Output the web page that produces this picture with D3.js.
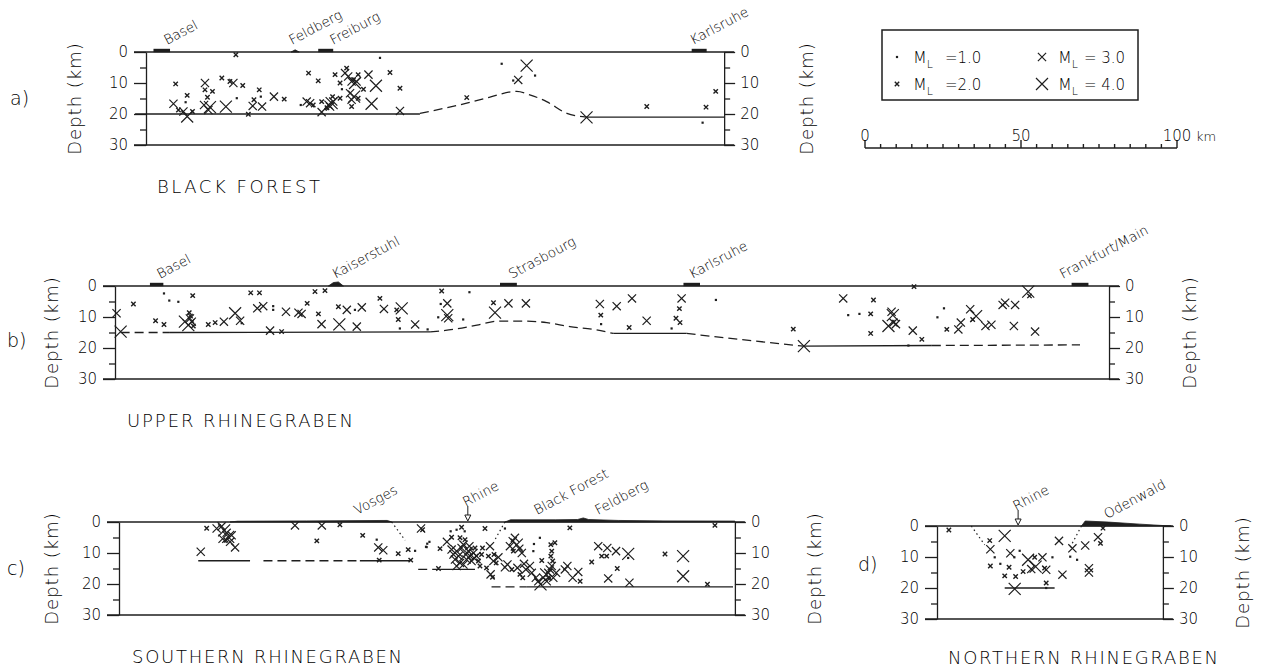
<!DOCTYPE html>
<html>
<head>
<meta charset="utf-8">
<script src="https://cdn.jsdelivr.net/npm/d3@7"></script>
<style>
  body { margin: 0; background: #fff; }
  text { font-family: "DejaVu Sans", sans-serif; font-weight: 200; fill: #000; }
</style>
</head>
<body>
<script>
// ---- data: [distance km, depth km, ML] ----
const eventsA = [
  [28.8,0.9,2],[9.5,10.3,2],[8.8,16.7,3],[13.2,14.0,2],[12.7,16.2,1],[10.4,18.7,2],[12.0,19.2,3],[13.2,20.8,4],[14.9,19.2,2],
  [18.9,10.0,3],[18.9,12.2,2],[21.3,12.7,2],[19.7,14.6,2],[18.6,17.1,3],[20.5,17.8,4],[20.0,18.7,3],
  [24.3,8.4,2],[26.9,9.5,2],[28.0,10.0,3],[31.0,10.8,2],[25.6,17.6,4],[29.1,14.9,1],[32.8,20.1,2],[34.6,15.4,2],
  [34.2,17.4,3],[36.3,12.2,2],[36.8,14.4,1],[37.2,17.6,3],[41.0,14.4,3],[44.3,15.2,2],
  [49.6,17.1,1],[51.5,16.0,3],[52.6,16.5,3],[53.6,17.1,2],[52.1,6.8,2],[55.2,9.3,2],[56.3,16.0,2],[56.3,19.4,3],
  [59.0,17.6,3],[59.5,16.5,4],[58.5,17.0,3],[60.0,16.0,3],[58.0,18.0,2],[59.8,14.4,2],[60.6,7.3,2],[62.2,14.9,2],
  [62.2,10.0,2],[62.8,12.0,1],[63.8,6.8,3],[64.3,5.2,2],[64.8,7.9,3],[65.9,9.5,3],[66.5,8.9,2],[67.0,10.0,4],
  [67.5,9.5,3],[68.0,7.3,2],[65.4,13.3,3],[65.9,15.4,3],[65.9,17.6,2],[66.7,14.4,4],[68.0,14.9,2],[69.7,12.0,2],
  [71.3,7.3,3],[73.7,10.9,4],[72.3,16.7,4],[75.0,1.9,1],[78.2,6.6,2],[81.4,11.7,2],[81.4,19.0,3],
  [102.8,14.7,2],[114.0,3.8,1],[122.0,4.4,4],[119.3,9.0,3],[117.7,9.2,1],[124.7,7.6,1],[141.2,21.1,4],
  [160.5,17.6,2],[179.5,17.8,2],[178.4,22.8,1],[182.6,12.7,2]
];
const eventsB = [
  [0.5,8.8,3],[1.8,14.7,4],[5.9,5.8,2],[15.7,2.4,1],[17.4,4.7,1],[20.3,5.1,1],[24.9,3.1,2],[13.0,11.2,2],[15.7,12.4,2],
  [23.8,8.6,2],[22.4,11.5,4],[23.5,12.6,4],[24.0,10.5,3],[24.6,11.5,3],[25.1,12.9,2],[24.2,9.7,2],
  [29.9,12.4,2],[32.1,11.8,2],[34.9,11.5,3],[38.5,8.8,4],[40.1,11.2,3],[40.6,12.0,1],[43.5,2.2,2],[46.3,2.2,2],
  [45.6,7.2,3],[47.5,6.5,3],[50.7,6.5,1],[50.7,7.7,1],[49.7,14.4,3],[53.4,14.7,2],[54.8,8.3,3],[58.8,8.6,3],
  [59.8,9.0,3],[61.6,5.6,2],[64.1,1.8,2],[67.3,1.5,2],[65.2,9.0,2],[66.2,12.3,3],[71.6,6.7,2],[71.9,12.4,4],
  [74.3,7.7,3],[76.9,7.7,1],[79.1,6.9,3],[77.5,13.1,3],[84.9,4.0,2],[86.2,7.4,3],[90.3,7.7,2],[90.8,10.8,2],
  [91.9,7.2,4],[91.3,13.7,1],[96.2,12.4,3],[100.2,14.0,1],
  [104.7,1.6,2],[113.6,2.0,1],[104.4,5.8,1],[106.5,5.6,3],[103.6,10.1,1],[106.5,9.4,4],[106.8,10.4,3],[111.6,10.8,1],
  [121.3,5.4,2],[121.8,8.6,4],[126.1,5.6,3],[131.7,5.6,3],[155.4,5.8,3],[160.8,6.5,3],[165.7,4.0,3],[155.7,9.4,2],
  [155.8,12.3,1],[164.8,13.4,2],[170.4,11.2,3],[181.6,4.0,3],[180.9,7.3,2],[179.8,10.4,2],[181.1,11.8,2],[178.4,13.7,1],
  [192.6,4.5,1],[217.4,13.9,2],[220.8,19.4,4],[233.4,4.0,3],[235.0,9.4,1],
  [238.6,9.0,1],[242.2,9.0,2],[243.1,4.5,2],[242.2,15.3,2],[256.1,0.2,2],[248.9,8.3,3],[249.3,9.4,4],[249.5,11.8,3],
  [247.9,12.9,4],[250.3,12.3,3],[255.7,14.4,3],[258.6,17.2,2],[254.3,19.2,1],[263.6,10.1,1],[265.7,7.2,1],
  [266.6,14.0,2],[270.3,14.0,3],[271.1,11.8,3],[274.1,7.5,3],[274.9,10.8,2],[276.0,9.7,4],[279.0,12.9,3],
  [280.9,12.5,3],[284.5,6.1,3],[285.3,5.4,3],[288.5,6.1,3],[288.1,12.9,3],[292.7,1.8,4],[293.1,3.2,2],[294.9,14.7,3]
];
const eventsC = [
  [28.1,2.0,2],[26.2,9.6,3],[31.3,2.1,3],[32.9,1.4,3],[33.7,2.7,4],[34.5,3.5,3],[33.2,5.4,3],[35.0,4.8,4],
  [35.6,6.4,3],[37.2,8.2,3],[34.3,5.9,2],[36.1,4.3,3],[56.4,1.1,3],[65.0,1.1,3],[70.8,0.9,2],[63.4,6.1,2],
  [78.1,4.3,2],[82.6,5.7,1],[83.1,8.2,3],[84.7,9.1,3],[83.4,12.3,2],[89.5,10.2,2],[92.7,8.9,2],[94.9,9.3,1],
  [93.5,12.3,2],[96.8,2.1,3],[98.8,7.0,1],[98.4,8.0,1],
  [97.3,2.5,2],[98.6,8.1,1],[99.5,6.4,1],[102.9,8.6,2],[102.4,15.0,2],[105.1,6.4,3],[106.3,3.0,1],[106.6,4.9,2],
  [108.2,2.5,1],[109.8,1.7,2],[110.8,3.0,1],
  [106.6,8.9,3],[107.2,10.5,3],[107.7,12.1,3],[108.2,9.4,4],[108.8,11.0,3],[109.3,13.2,3],[109.8,8.4,3],[110.4,7.3,3],
  [110.9,5.7,2],[111.2,10.5,4],[111.4,12.1,3],[112.0,9.4,3],[112.3,7.8,3],[112.5,11.0,3],[113.0,12.6,3],[113.6,10.0,3],
  [113.8,11.6,3],[114.1,8.4,2],[114.6,11.0,3],[115.2,12.6,2],[115.7,14.2,2],[116.2,10.5,2],[116.5,8.4,2],[117.3,2.1,2],
  [109.3,5.1,2],[108.2,14.2,3],[110.4,13.7,3],
  [117.8,14.8,2],[118.9,7.8,3],[118.4,11.0,2],[120.2,10.5,2],[121.6,11.4,3],[120.0,12.6,3],[120.9,13.2,2],[119.1,16.9,3],
  [119.7,17.8,2],[123.7,2.1,1],
  [125.3,7.8,3],[126.2,6.2,3],[126.9,5.1,3],[127.5,7.3,4],[128.3,8.6,3],[126.4,9.4,2],[129.1,10.0,3],[124.5,13.7,3],
  [123.7,14.6,3],[125.9,15.3,2],[127.7,14.8,3],[129.8,13.5,3],[130.4,15.3,3],[128.5,16.9,2],[129.4,18.0,2],[131.7,14.2,3],
  [132.3,16.4,3],[132.8,9.4,1],[133.0,7.1,1],[134.9,5.1,1],[135.5,12.4,2],[133.6,18.0,3],[134.4,19.1,3],[135.1,20.1,4],
  [136.0,18.0,3],[136.9,16.9,4],[137.6,16.4,3],[138.1,15.3,3],[138.7,14.2,3],[139.0,12.6,2],[138.4,11.0,2],[138.7,9.4,2],
  [138.4,7.3,2],[139.7,6.7,2],[140.1,16.4,3],[139.2,18.0,3],[137.6,18.0,2],[137.1,19.1,3],
  [144.5,1.9,2],[142.9,15.3,3],[143.7,14.2,3],[145.4,18.0,3],[147.2,16.1,3],[147.8,19.1,2],[151.5,12.9,2],[153.6,7.8,3],
  [154.7,11.0,2],[156.5,8.4,3],[156.3,11.0,2],[159.3,9.4,3],[156.8,18.2,3],[159.7,15.0,2],[163.2,10.3,4],[163.2,11.6,1],
  [163.6,19.6,3],[175.0,10.3,2],[180.8,11.0,4],[180.8,17.5,4],[188.6,20.1,2],[191.0,1.1,2]
];
const eventsD = [
  [3.8,1.3,2],[21.7,3.2,4],[16.9,4.7,2],[17.1,7.5,3],[18.5,10.1,1],[17.1,12.9,2],[20.3,12.2,1],[23.1,13.3,2],
  [21.7,16.1,2],[23.5,8.8,3],[24.8,10.1,1],[26.5,8.0,1],[25.2,16.3,2],[27.6,14.7,2],[29.2,10.9,4],[30.2,13.9,3],
  [31.6,13.1,4],[31.3,10.1,2],[33.8,10.1,3],[34.5,13.6,2],[35.0,14.1,3],[37.0,10.1,1],[35.0,18.4,2],[35.0,20.0,1],
  [24.9,20.3,4],[39.1,4.8,3],[40.2,15.7,3],[42.7,9.9,1],[44.9,10.9,1],[43.4,7.2,3],[47.5,6.3,3],[48.7,13.6,3],
  [48.7,15.0,3],[51.6,3.6,3],[52.4,5.6,2],[53.2,0.7,2]
];

// Moho traces [km, depth]
const mohoSolidA = [[[-3.5,20],[87.8,20]], [[141.2,21],[185.3,21]]];
const mohoDashA  = [[[87.8,19.8],[95,18.3],[102.8,16.5],[110,14.6],[118.8,12.7],[123,13.8],[128.4,16.0],[134.9,19.8],[141.2,21.0]]];
const mohoSolidB = [[[17.6,15],[101,14.8]], [[159.7,15.3],[183.2,15.3]], [[220.6,19.4],[261.8,19.2]]];
const mohoDashB  = [[[1.8,15],[17.6,15]],
  [[101,14.8],[108.5,14.0],[116,12.6],[123.4,11.3],[129.8,11.3],[138.4,11.8],[145.8,13.1],[153.3,14.0],[159.7,15.3]],
  [[183.2,15.3],[200,17.2],[220.6,19.4]], [[261.8,19.2],[309.3,19.0]]];
const mohoSolidC = [[[25.4,12.5],[42.0,12.5]], [[77.2,12.5],[93.3,12.5]], [[102.9,15.3],[114.1,15.3]], [[130.7,20.9],[196.8,20.9]]];
const mohoDashC  = [[[46.3,12.5],[77.2,12.5]], [[95.9,15.3],[102.9,15.3]], [[119.4,20.9],[130.7,20.9]]];
const mohoSolidD = [[[21.7,20],[37.7,20]]];
const mohoDashD  = [];

// faults (dotted) [km, depth]
const faultsC = [[[87.4,0],[91.7,5.9]], [[123.7,0],[120.5,5.7]]];
const faultsD = [[[11.0,0],[15.3,6.1]], [[46.3,0],[42.5,7.2]]];

// relief above surface [km, elevation km]
const reliefA = [[[46.5,0],[47.8,0.7],[49.1,0]]];
const reliefB = [[[68.4,0],[70,1.1],[71.6,1.3],[73.2,0]]];
const reliefC = [[[35.6,0],[38,0.25],[60,0.35],[86,0.5],[87.4,0]],
  [[123.7,0],[125.5,0.7],[140,0.7],[147,0.8],[148.8,1.3],[150.5,0.8],[160,0.5],[175,0.35],[197.4,0.3],[197.4,0]]];
const reliefD = [[[46.3,0],[47.5,1.6],[55,1.25],[65,0.6],[72.4,0.15],[75,0]]];

// cities as bars [name, km start, km end]
const citiesA = [["Basel",2.4,7.7],["Freiburg",55.2,60.0],["Karlsruhe",174.9,179.7]];
const citiesB = [["Basel",11.2,15.5],["Strasbourg",123.4,128.8],["Karlsruhe",182.2,187.5],["Frankfurt/Main",306.6,312.0]];

// place names [text, km]
const namesA = [["Basel",6.7],["Feldberg",46.8],["Freiburg",59.9],["Karlsruhe",175.3]];
const namesB = [["Basel",14.4],["Kaiserstuhl",70.5],["Strasbourg",127.2],["Karlsruhe",184.9],["Frankfurt/Main",303.8]];
const namesC = [["Vosges",76.3],["Black  Forest",134],["Feldberg",153.5]];
const namesD = [["Odenwald",54.5]];
const rhineC = 111.8;
const rhineD = 26.0;

const depthTicks = [0,10,20,30];
const depthMinor = [5,15,25];
const scaleTicks = d3.range(0,101,5);
const legendML = [1,2,3,4];

// ---- drawing ----
const ink = "#1e1e1e";
const kmPx = 3.12;
const svg = d3.select("body").append("svg").attr("width",1261).attr("height",668);
const size = d3.scaleLinear().domain([2,4]).range([2.2,6]);

function mark(g, cx, cy, ml) {
  if (ml === 1) {
    g.append("rect").attr("x",cx-1.1).attr("y",cy-1.1).attr("width",2.2).attr("height",2.2).attr("fill",ink);
  } else {
    const s = size(ml);
    g.append("path").attr("d",`M${cx-s},${cy-s}L${cx+s},${cy+s}M${cx-s},${cy+s}L${cx+s},${cy-s}`)
      .attr("stroke",ink).attr("stroke-width", ml === 2 ? 1.4 : 1.2).attr("fill","none");
  }
}

function styleAxis(a) {
  a.attr("font-size",15).attr("font-family","DejaVu Sans, sans-serif").attr("color",ink);
  a.selectAll("line,path").attr("stroke-width",1.3);
}

function drawPanel(p) {
  const x = d3.scaleLinear().domain([0,p.kmMax]).range([p.left, p.left + p.kmMax*kmPx]);
  const y = d3.scaleLinear().domain([0,30]).range([p.top, p.top + 93]);
  const g = svg.append("g");

  [0,30].forEach(v => g.append("line")
    .attr("x1",x(0)-12).attr("x2",x(p.kmMax)+10).attr("y1",y(v)).attr("y2",y(v))
    .attr("stroke",ink).attr("stroke-width",1.3));

  g.append("g").attr("transform",`translate(${x(0)},0)`)
    .call(d3.axisLeft(y).tickValues(depthTicks).tickSize(12).tickSizeOuter(0).tickPadding(6)).call(styleAxis);
  g.append("g").attr("transform",`translate(${x(0)},0)`)
    .call(d3.axisLeft(y).tickValues(depthMinor).tickSize(6).tickFormat("")).call(styleAxis)
    .call(a => a.select(".domain").remove());
  g.append("g").attr("transform",`translate(${x(p.kmMax)},0)`)
    .call(d3.axisRight(y).tickValues(depthTicks).tickSize(11).tickSizeOuter(0).tickPadding(5)).call(styleAxis);
  g.append("g").attr("transform",`translate(${x(p.kmMax)},0)`)
    .call(d3.axisRight(y).tickValues(depthMinor).tickSize(6).tickFormat("")).call(styleAxis)
    .call(a => a.select(".domain").remove());

  if (p.depthL) g.append("text").attr("transform",`translate(${p.depthL},${y(15)}) rotate(-90)`)
    .attr("text-anchor","middle").attr("font-size",18).attr("letter-spacing",1).text("Depth (km)");
  g.append("text").attr("transform",`translate(${p.depthR},${y(15)}) rotate(-90)`)
    .attr("text-anchor","middle").attr("font-size",18).attr("letter-spacing",1).text("Depth (km)");

  g.append("text").attr("x",p.tag[0]).attr("y",p.tag[1]).attr("font-size",19).text(p.tagText);
  g.append("text").attr("x",p.title[0]).attr("y",p.title[1]).attr("font-size",18)
    .attr("textLength",p.title[2]).attr("lengthAdjust","spacing").text(p.titleText);

  const line = d3.line().x(d => x(d[0])).y(d => y(d[1]));
  const smooth = d3.line().x(d => x(d[0])).y(d => y(d[1])).curve(d3.curveMonotoneX);
  p.solid.forEach(s => g.append("path").attr("d",line(s)).attr("fill","none").attr("stroke",ink).attr("stroke-width",1.3));
  p.dash.forEach(s => g.append("path").attr("d",smooth(s)).attr("fill","none").attr("stroke",ink)
    .attr("stroke-width",1.3).attr("stroke-dasharray","9,5"));
  (p.faults || []).forEach(s => g.append("path").attr("d",line(s)).attr("fill","none").attr("stroke",ink)
    .attr("stroke-width",1.2).attr("stroke-dasharray","1.5,3"));

  const relief = d3.area().x(d => x(d[0])).y0(y(0)).y1(d => y(0) - d[1]*kmPx);
  (p.relief || []).forEach(r => g.append("path").attr("d",relief(r)).attr("fill",ink).attr("stroke",ink).attr("stroke-width",0.8));
  (p.cities || []).forEach(c => g.append("rect").attr("x",x(c[1])).attr("y",y(0)-3.2)
    .attr("width",x(c[2])-x(c[1])).attr("height",3.4).attr("fill",ink));

  (p.names || []).forEach(n => g.append("text")
    .attr("transform",`translate(${x(n[1])},${y(0)-7}) rotate(-28)`)
    .attr("font-size",13.5).text(n[0]));

  if (p.rhine !== undefined) {
    const rx = x(p.rhine), ry = y(0) - 1;
    g.append("path").attr("d",`M${rx},${ry-15}V${ry-6}M${rx-3},${ry-6}L${rx+3},${ry-6}L${rx},${ry}Z`)
      .attr("fill","#fff").attr("stroke",ink).attr("stroke-width",1);
    g.append("text").attr("transform",`translate(${rx-2},${ry-14}) rotate(-28)`).attr("font-size",13.5).text("Rhine");
  }

  p.events.forEach(e => mark(g, x(e[0]), y(e[1]), e[2]));
}

drawPanel({left:146, top:52, kmMax:185.3, events:eventsA, solid:mohoSolidA, dash:mohoDashA,
  relief:reliefA, cities:citiesA, names:namesA, depthL:81, depthR:813,
  tag:[10,105], tagText:"a)", title:[157,193,163], titleText:"BLACK FOREST"});
drawPanel({left:115, top:286, kmMax:318.6, events:eventsB, solid:mohoSolidB, dash:mohoDashB,
  relief:reliefB, cities:citiesB, names:namesB, depthL:58, depthR:1196,
  tag:[7,347], tagText:"b)", title:[127,427,226], titleText:"UPPER RHINEGRABEN"});
drawPanel({left:119, top:522, kmMax:197.4, events:eventsC, solid:mohoSolidC, dash:mohoDashC,
  faults:faultsC, relief:reliefC, names:namesC, rhine:rhineC, depthL:58, depthR:821,
  tag:[7,575], tagText:"c)", title:[132,663,270], titleText:"SOUTHERN RHINEGRABEN"});
drawPanel({left:937, top:526, kmMax:72.4, events:eventsD, solid:mohoSolidD, dash:mohoDashD,
  faults:faultsD, relief:reliefD, names:namesD, rhine:rhineD, depthL:null, depthR:1249,
  tag:[858,571], tagText:"d)", title:[948,664,270], titleText:"NORTHERN RHINEGRABEN"});

// ---- legend ----
const lg = svg.append("g");
lg.append("rect").attr("x",882).attr("y",30).attr("width",256).attr("height",70)
  .attr("fill","none").attr("stroke",ink).attr("stroke-width",1.5);
const legX = d3.scaleOrdinal().domain(legendML).range([897,897,1042,1042]);
const legY = d3.scaleOrdinal().domain(legendML).range([57,84,57,84]);
legendML.forEach(ml => {
  mark(lg, legX(ml), legY(ml), ml);
  const t = lg.append("text").attr("x",legX(ml)+16).attr("y",legY(ml)+6).attr("font-size",16);
  t.append("tspan").text("M");
  t.append("tspan").attr("font-size",11).attr("dy",5).text("L");
  t.append("tspan").attr("font-size",15).attr("dy",-5).attr("dx",ml < 3 ? 12 : 6).text(ml < 3 ? "=" + ml.toFixed(1) : "= " + ml.toFixed(1));
});

// ---- distance scale bar ----
const sb = d3.scaleLinear().domain([0,100]).range([865,1177]);
const sg = svg.append("g");
sg.append("line").attr("x1",sb(0)).attr("x2",sb(100)).attr("y1",148).attr("y2",148).attr("stroke",ink).attr("stroke-width",1.4);
scaleTicks.forEach(t => sg.append("line").attr("x1",sb(t)).attr("x2",sb(t)).attr("y1",148)
  .attr("y2",148 - (t % 50 === 0 ? 8 : 4)).attr("stroke",ink).attr("stroke-width",1.4));
[0,50,100].forEach(t => sg.append("text").attr("x",sb(t)).attr("y",141).attr("text-anchor","middle")
  .attr("font-size",15).text(t));
sg.append("text").attr("x",sb(100)+19).attr("y",141).attr("font-size",13).text("km");
</script>
</body>
</html>
